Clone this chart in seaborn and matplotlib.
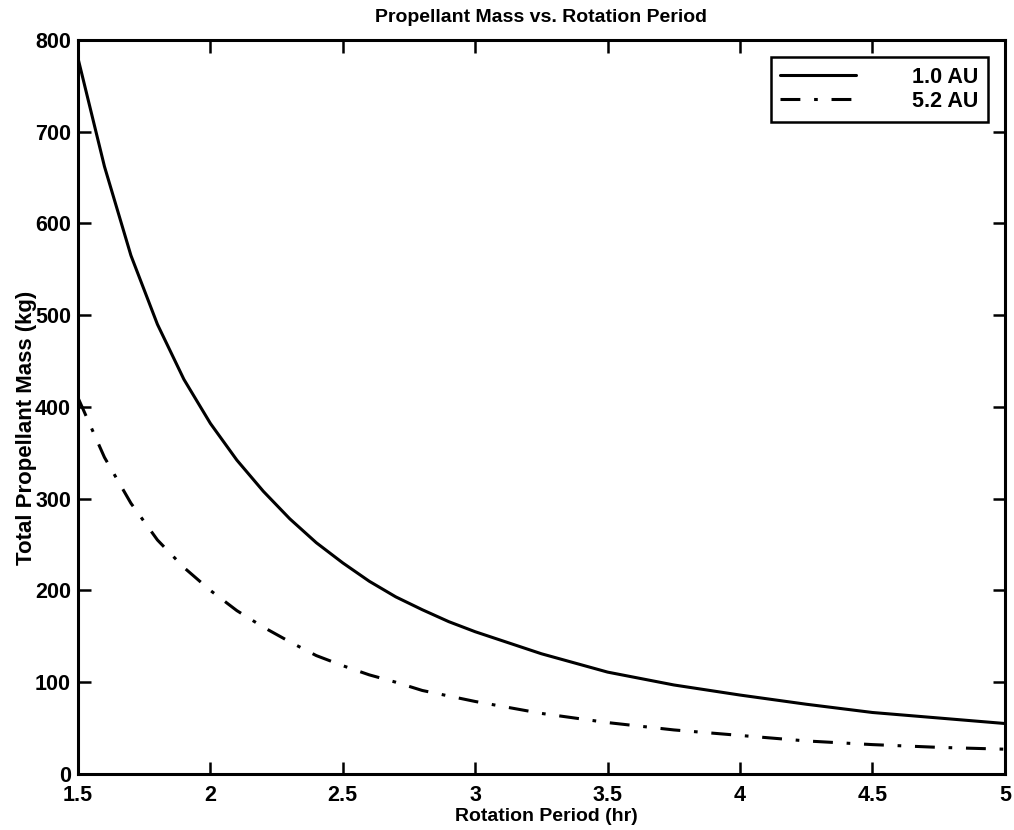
import matplotlib
matplotlib.use("Agg")
import matplotlib.pyplot as plt
import seaborn as sns
import pandas as pd

period_hr = [1.5, 1.6, 1.7, 1.8, 1.9, 2.0, 2.1, 2.2, 2.3, 2.4, 2.5, 2.6, 2.7, 2.8, 2.9, 3.0,
             3.25, 3.5, 3.75, 4.0, 4.25, 4.5, 4.75, 5.0]
mass_1au = [780, 662, 565, 490, 430, 382, 342, 308, 278, 252, 230, 210, 193, 179, 166, 155,
            131, 111, 97, 86, 76, 67, 61, 55]
mass_52au = [410, 345, 295, 255, 225, 200, 178, 160, 144, 129, 118, 108, 100, 91, 85, 79,
             66, 56, 48, 42, 36, 32, 29, 27]
series_labels = ["1.0 AU", "5.2 AU"]
x_ticks = [1.5, 2, 2.5, 3, 3.5, 4, 4.5, 5]
x_tick_labels = ["1.5", "2", "2.5", "3", "3.5", "4", "4.5", "5"]
y_ticks = [0, 100, 200, 300, 400, 500, 600, 700, 800]

sns.set_theme(style="ticks")
plt.rcParams['font.family'] = ['Liberation Sans', 'DejaVu Sans']
plt.rcParams['text.color'] = 'black'
plt.rcParams['axes.labelcolor'] = 'black'
plt.rcParams['xtick.direction'] = 'in'
plt.rcParams['ytick.direction'] = 'in'

df1 = pd.DataFrame({"period": period_hr, "mass": mass_1au})
df2 = pd.DataFrame({"period": period_hr, "mass": mass_52au})

fig = plt.figure(figsize=(10.14, 8.30), dpi=100)
ax = fig.add_axes([0.0769, 0.0675, 0.9141, 0.8845])

sns.lineplot(data=df1, x="period", y="mass", ax=ax, color="black", linewidth=2.2,
             label=series_labels[0], sort=False)
sns.lineplot(data=df2, x="period", y="mass", ax=ax, color="black", linewidth=2.2,
             label=series_labels[1], sort=False, dashes=False)
ax.lines[1].set_dashes([6.5, 4.5, 1.2, 4.5])

ax.set_xlim(1.5, 5)
ax.set_ylim(0, 800)
ax.set_xticks(x_ticks)
ax.set_xticklabels(x_tick_labels)
ax.set_yticks(y_ticks)
ax.tick_params(axis='both', which='major', direction='in', length=9, width=1.8,
               top=True, right=True, labelsize=15.5, colors='black')
ax.tick_params(axis='x', pad=8)
ax.tick_params(axis='y', pad=5)
for lbl in ax.get_xticklabels() + ax.get_yticklabels():
    lbl.set_fontweight('bold')
for s in ax.spines.values():
    s.set_visible(True)
    s.set_linewidth(2.2)
    s.set_color('black')

ax.set_xlabel("Rotation Period (hr)", fontsize=14, fontweight='bold', va='center')
ax.xaxis.set_label_coords(0.505, -0.058)
ax.set_ylabel("Total Propellant Mass (kg)", fontsize=16, fontweight='bold', va='center')
ax.yaxis.set_label_coords(-0.055, 0.471)
ax.set_title("Propellant Mass vs. Rotation Period", fontsize=14, fontweight='bold',
             y=1.031, va='center', color='black', pad=0)

leg = ax.legend(loc='upper right', fontsize=15.5, frameon=True, fancybox=False,
                edgecolor='black', framealpha=1.0, handlelength=3.5, handletextpad=2.6,
                borderaxespad=0.8, labelspacing=0.15, borderpad=0.45,
                bbox_to_anchor=(1.0, 1.0))
leg.get_frame().set_linewidth(1.8)
for t in leg.get_texts():
    t.set_fontweight('bold')

fig.savefig("out.png", dpi=100, facecolor='white')
